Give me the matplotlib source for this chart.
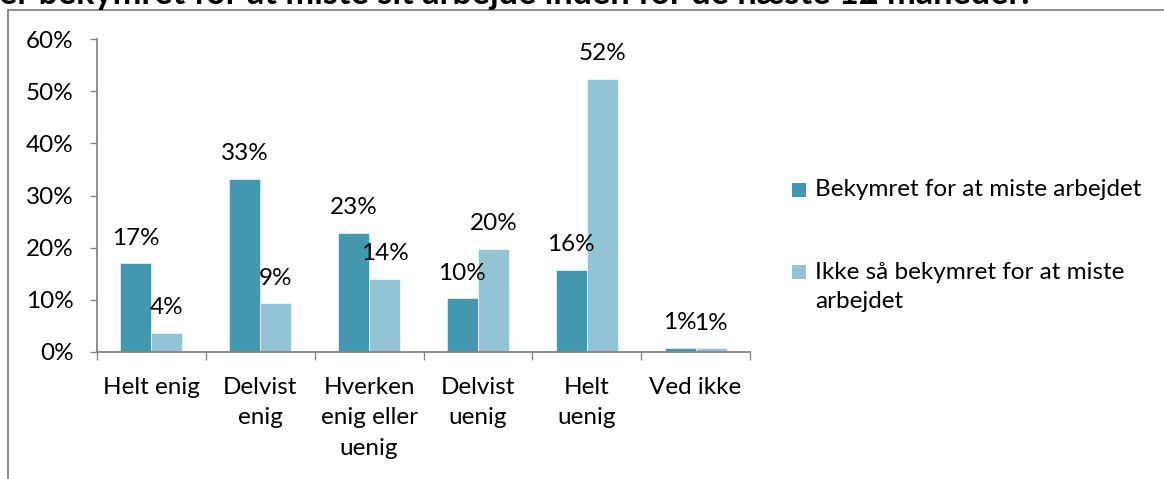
import matplotlib
matplotlib.use("Agg")
import matplotlib.pyplot as plt
from matplotlib.lines import Line2D
from matplotlib.patches import Rectangle
import numpy as np

plt.rcParams['font.family'] = ['Lato', 'DejaVu Sans']

# ---- data ----
categories = ["Helt enig", "Delvist\nenig", "Hverken\nenig eller\nuenig",
              "Delvist\nuenig", "Helt\nuenig", "Ved ikke"]
series_names = ["Bekymret for at miste arbejdet",
                "Ikke så bekymret for at miste\narbejdet"]
bekymret = [17.0, 33.2, 22.8, 10.3, 15.8, 0.8]
ikke_bekymret = [3.7, 9.3, 14.0, 19.7, 52.4, 0.7]
yticks = [0, 10, 20, 30, 40, 50, 60]
title = "er bekymret for at miste sit arbejde inden for de næste 12 måneder."

dark = "#4398B0"
light = "#93C4D5"
grey = "#868686"

W, H = 1164, 479
fig = plt.figure(figsize=(W / 100, H / 100), dpi=100)

def fx(px):
    return px / W

def fy(py):
    return 1 - py / H

# Title (cut off at top like reference)
t = fig.text(fx(-1), fy(4), title, fontsize=20, fontweight='bold',
             ha='left', va='baseline', color='black')
fig.canvas.draw()
r = fig.canvas.get_renderer()
bb = t.get_window_extent(r)
t.set_fontsize(20 * 1031 / bb.width)

# Chart frame border
fig.add_artist(Line2D([fx(8), 1.0], [fy(9.5), fy(9.5)], color=grey, lw=1.3,
                      transform=fig.transFigure))
fig.add_artist(Line2D([fx(8), fx(8)], [fy(9.5), 0.0], color=grey, lw=1.3,
                      transform=fig.transFigure))

# Axes
ax = fig.add_axes([fx(97), fy(352), fx(750) - fx(97), fy(39) - fy(352)])
x = np.arange(len(categories))
bw = 0.285
b1 = ax.bar(x - bw / 2, bekymret, bw, color=dark, edgecolor='white', linewidth=0.4)
b2 = ax.bar(x + bw / 2, ikke_bekymret, bw, color=light, edgecolor='white', linewidth=0.4)

fs = 17.5
for bars, vals in ((b1, bekymret), (b2, ikke_bekymret)):
    for rect, v in zip(bars, vals):
        ax.annotate(f"{round(v):d}%", (rect.get_x() + rect.get_width() / 2, v),
                    xytext=(0, 13.5), textcoords='offset points',
                    ha='center', va='baseline', fontsize=fs, color='black')

ax.set_xlim(-0.5, len(categories) - 0.5)
ax.set_ylim(0, 60)
ax.set_yticks(yticks)
ax.set_yticklabels([f"{v}%" for v in yticks], fontsize=fs)
ax.set_xticks(np.arange(len(categories) + 1) - 0.5)
ax.set_xticklabels([])
ax.set_xticks(x, minor=True)
ax.set_xticklabels(categories, minor=True, fontsize=fs, linespacing=1.55)
ax.tick_params(axis='x', which='major', length=6, width=1, color=grey, direction='out')
ax.tick_params(axis='x', which='minor', length=0, pad=18)
ax.tick_params(axis='y', length=5, width=1, color=grey, direction='out', pad=12)
for s in ('top', 'right'):
    ax.spines[s].set_visible(False)
for s in ('left', 'bottom'):
    ax.spines[s].set_color(grey)
    ax.spines[s].set_linewidth(1.3)

# Legend (manual)
sq = 14
fig.add_artist(Rectangle((fx(792), fy(197)), fx(sq) - fx(0), fy(0) - fy(sq),
                         facecolor=dark, transform=fig.transFigure))
fig.text(fx(815), fy(190), series_names[0], fontsize=fs, ha='left', va='center')
fig.add_artist(Rectangle((fx(792), fy(279)), fx(sq) - fx(0), fy(0) - fy(sq),
                         facecolor=light, transform=fig.transFigure))
fig.text(fx(815), fy(272 - 10), series_names[1], fontsize=fs, ha='left', va='top',
         linespacing=1.45)

fig.savefig("out.png", dpi=100)
